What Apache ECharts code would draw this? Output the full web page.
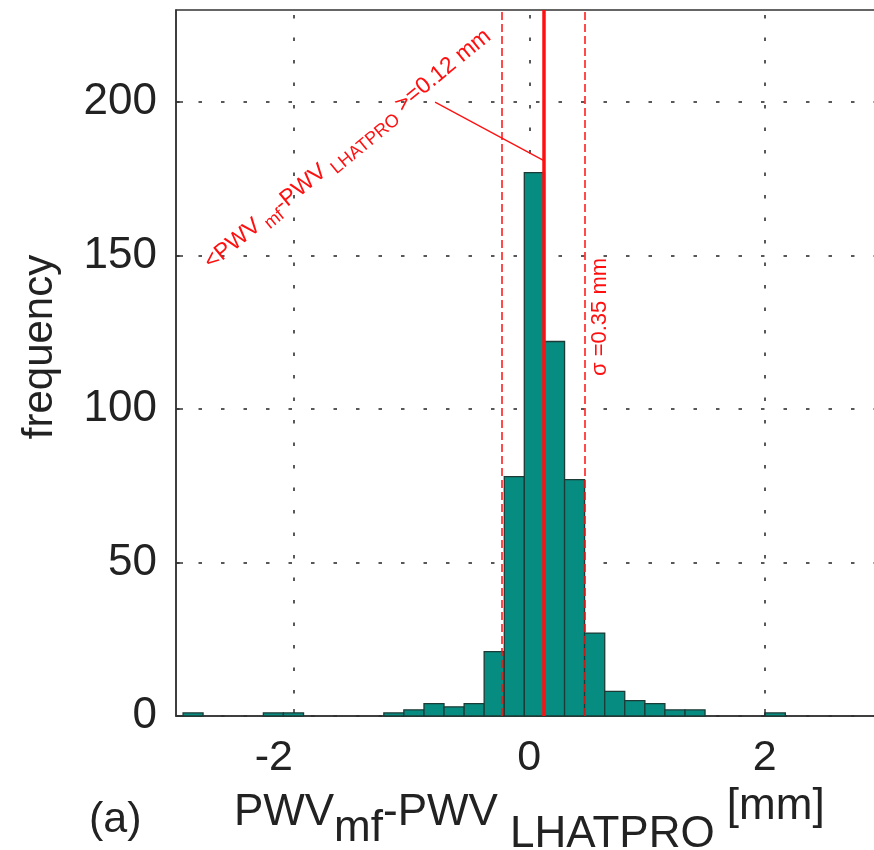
<!DOCTYPE html>
<html><head><meta charset="utf-8">
<script src="https://cdn.jsdelivr.net/npm/echarts@6/dist/echarts.min.js"></script>
<style>html,body{margin:0;padding:0;background:#fff}#c{width:874px;height:850px}</style>
</head><body><div id="c"></div>
<script>
// ---- data ----
const binEdges = [-2.940,-2.770,-2.599,-2.429,-2.258,-2.088,-1.917,-1.747,-1.576,-1.406,-1.235,-1.065,-0.894,-0.724,-0.553,-0.383,-0.212,-0.042,0.129,0.300,0.470,0.641,0.811,0.982,1.152,1.323,1.493,1.664,1.834,2.005,2.175];
const binCounts = [1,0,0,0,1,1,0,0,0,0,1,2,4,3,4,21,78,177,122,77,27,8,5,4,2,2,0,0,0,1];
const xTicks = [-2, 0, 2];
const yTicks = [0, 50, 100, 150, 200];
const xRange = [-3, 3];
const yRange = [0, 230];
const meanDiff = 0.12;
const sigma = 0.35;
const pointerFrom = [-0.80, 200];
const pointerTo = [0.12, 181];

const FONT = '"Liberation Sans", Arial, Helvetica, sans-serif';
const RED = '#ff1010';
const INK = '#222';
const histData = binCounts.map((c, i) => [binEdges[i], binEdges[i + 1], c]);

const chart = echarts.init(document.getElementById('c'), null, {renderer: 'canvas'});
const option = {
  animation: false,
  backgroundColor: '#ffffff',
  grid: {left: 176, top: 10, width: 706.5, height: 706, show: true, containLabel: false,
         outerBoundsMode: 'none',
         borderColor: '#333', borderWidth: 1.5, backgroundColor: 'rgba(0,0,0,0)'},
  xAxis: {
    type: 'value', min: xRange[0], max: xRange[1], interval: 1,
    axisLine: {show: true, onZero: false, lineStyle: {color: '#333', width: 1.5}},
    axisTick: {show: true, inside: true, length: 7, customValues: xTicks, lineStyle: {color: '#333', width: 1.5}},
    axisLabel: {customValues: xTicks, fontSize: 43, fontFamily: FONT, color: INK, margin: 21,
      formatter: v => v < 0 ? '{n|' + v + '}' : String(v),
      rich: {n: {fontSize: 43, fontFamily: FONT, color: INK, padding: [0, 40, 0, 0]}}},
    splitLine: {show: false},
    name: '{a|PWV}{b|mf}{a|-PWV }{c|LHATPRO}{d| [mm]}',
    nameLocation: 'middle', nameGap: 54,
    nameTextStyle: {
      fontSize: 44, fontFamily: FONT, color: INK, verticalAlign: 'top',
      rich: {
        a: {fontSize: 44, fontFamily: FONT, color: INK, verticalAlign: 'top', padding: [6, 0, 0, 0]},
        b: {fontSize: 44, fontFamily: FONT, color: INK, verticalAlign: 'top', padding: [22, 0, 0, 0]},
        c: {fontSize: 44, fontFamily: FONT, color: INK, verticalAlign: 'top', padding: [28, 0, 0, 0]},
        d: {fontSize: 44, fontFamily: FONT, color: INK, verticalAlign: 'top', padding: [0, 0, 0, 0]}
      }
    }
  },
  yAxis: {
    type: 'value', min: yRange[0], max: yRange[1], interval: 50,
    axisLine: {show: true, onZero: false, lineStyle: {color: '#333', width: 1.5}},
    axisTick: {show: true, inside: true, length: 7, customValues: yTicks, lineStyle: {color: '#333', width: 1.5}},
    axisLabel: {customValues: yTicks, fontSize: 44, fontFamily: FONT, color: INK, margin: 19},
    splitLine: {show: true, lineStyle: {color: INK, width: 1.5, type: [3.5, 19]}},
    name: 'frequency', nameLocation: 'middle', nameRotate: 90, nameGap: 115,
    nameTextStyle: {fontSize: 42, fontFamily: FONT, color: INK, padding: [0, 0, 0, 32]}
  },
  series: [
    {
      type: 'line', data: [], silent: true, z: 1,
      markLine: {
        silent: true, symbol: 'none', z: 1, animation: false,
        label: {show: false},
        lineStyle: {color: INK, width: 1.5, type: [3.5, 19]},
        data: xTicks.map(v => ({xAxis: v}))
      }
    },
    {
      type: 'custom', z: 2, data: histData,
      encode: {x: [0, 1], y: 2},
      renderItem: (params, api) => {
        const c = api.value(2);
        if (!c) return null;
        const p0 = api.coord([api.value(0), c]);
        const p1 = api.coord([api.value(1), 0]);
        return {type: 'rect',
          shape: {x: p0[0], y: p0[1], width: p1[0] - p0[0], height: p1[1] - p0[1]},
          style: {fill: '#068c80', stroke: '#1d3b36', lineWidth: 1.3}};
      }
    },
    {
      type: 'line', data: [], silent: true, z: 3,
      markLine: {
        silent: true, symbol: 'none', z: 6, animation: false,
        label: {show: false},
        data: [
          {xAxis: meanDiff, lineStyle: {color: RED, width: 3.5, type: 'solid'}},
          {xAxis: meanDiff - sigma, lineStyle: {color: RED, width: 1.5, type: [8, 4]}},
          {xAxis: meanDiff + sigma, lineStyle: {color: RED, width: 1.5, type: [8, 4]}},
          [{coord: pointerFrom, lineStyle: {color: RED, width: 1.3, type: 'solid'}}, {coord: pointerTo}]
        ]
      }
    }
  ],
  graphic: [
    {
      type: 'text', x: 200, y: 256, rotation: 39.5 * Math.PI / 180, z: 10,
      style: {
        text: '{m|<PWV}{s| mf}{m|-PWV }{s|LHATPRO}{m| >=0.12 mm}',
        align: 'left', verticalAlign: 'top',
        rich: {
          m: {fontSize: 23, fontFamily: FONT, fill: RED, verticalAlign: 'top', padding: [0, 0, 0, 0]},
          s: {fontSize: 18, fontFamily: FONT, fill: RED, verticalAlign: 'top', padding: [10, 0, 0, 0]}
        }
      }
    },
    {
      type: 'text', x: 600, y: 317, rotation: Math.PI / 2, z: 10,
      style: {text: 'σ =0.35 mm', fontSize: 22, fontFamily: FONT, fill: RED, align: 'center', verticalAlign: 'middle'}
    },
    {
      type: 'text', x: 89, y: 820, z: 10,
      style: {text: '(a)', fontSize: 43, fontFamily: FONT, fill: INK, align: 'left', verticalAlign: 'middle'}
    }
  ]
};
chart.setOption(option);
</script>
</body></html>
